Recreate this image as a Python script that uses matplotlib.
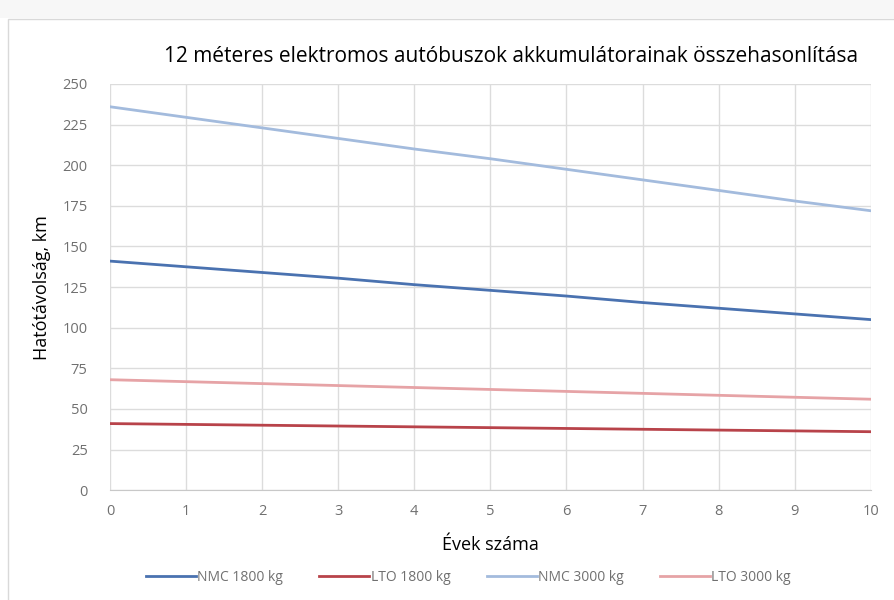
import matplotlib.pyplot as plt
from matplotlib.patches import Rectangle

years = list(range(11))
nmc_1800 = [141, 137.5, 134, 130.5, 126.5, 123, 119.5, 115.5, 112, 108.5, 105]
lto_1800 = [41, 40.5, 40, 39.5, 39, 38.5, 38, 37.5, 37, 36.5, 36]
nmc_3000 = [236, 229.5, 223, 216.5, 210, 204, 197.5, 191, 184.5, 178, 172]
lto_3000 = [68, 66.8, 65.6, 64.4, 63.2, 62, 60.8, 59.6, 58.4, 57.2, 56]
y_ticks = [0, 25, 50, 75, 100, 125, 150, 175, 200, 225, 250]

plt.rcParams['font.family'] = ['Open Sans', 'DejaVu Sans']

fig = plt.figure(figsize=(8.94, 6), dpi=100)
# light strip on top and chart frame, like the screenshot
fig.patches.append(Rectangle((0, 0.97), 1, 0.03, transform=fig.transFigure,
                             facecolor='#f7f7f7', edgecolor='none'))
fig.patches.append(Rectangle((0.009, -0.01), 1.0, 0.978, transform=fig.transFigure,
                             facecolor='none', edgecolor='#d9d9d9', lw=1))

ax = fig.add_axes([0.123, 0.183, 0.851, 0.677])
ax.plot(years, nmc_1800, color='#4a72b0', lw=2, label='NMC 1800 kg')
ax.plot(years, lto_1800, color='#b8434a', lw=2, label='LTO 1800 kg')
ax.plot(years, nmc_3000, color='#a3bbdd', lw=2, label='NMC 3000 kg')
ax.plot(years, lto_3000, color='#e6a3a6', lw=2, label='LTO 3000 kg')

ax.set_xlim(0, 10)
ax.set_ylim(0, 250)
ax.set_xticks(years)
ax.set_yticks(y_ticks)
ax.grid(True, color='#dcdcdc', lw=1)
ax.set_axisbelow(True)
for s in ['top', 'right', 'left']:
    ax.spines[s].set_visible(False)
ax.spines['bottom'].set_color('#c8c8c8')
ax.tick_params(length=0, colors='#707070', labelsize=10.5)
ax.tick_params(axis='y', pad=16)
ax.tick_params(axis='x', pad=10)

ax.set_xlabel('Évek száma', fontsize=13, labelpad=12)
ax.set_ylabel('Hatótávolság, km', fontsize=13, labelpad=8)
fig.text(0.572, 0.905, '12 méteres elektromos autóbuszok akkumulátorainak összehasonlítása',
         ha='center', va='center', fontsize=15)

leg = fig.legend(loc='center', bbox_to_anchor=(0.524, 0.037), ncol=4, frameon=False,
                 fontsize=10, handlelength=3.6, handletextpad=0.1, columnspacing=2.6)
for t in leg.get_texts():
    t.set_color('#707070')

fig.savefig('out.png', dpi=100)
